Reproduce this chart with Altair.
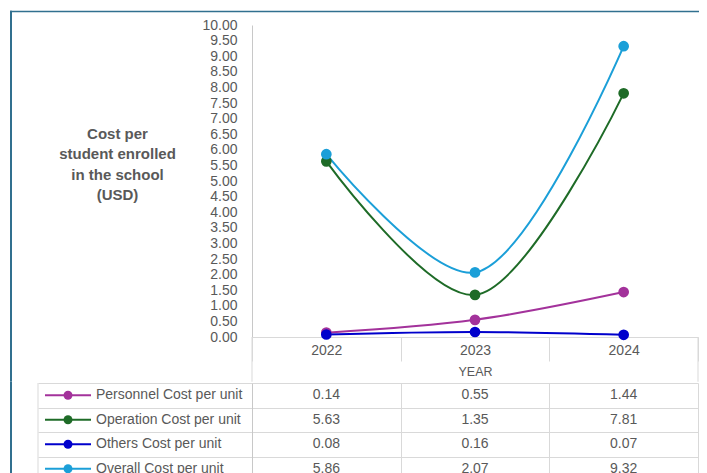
import altair as alt
import pandas as pd

years = ["2022", "2023", "2024"]
series = ["Personnel Cost per unit", "Operation Cost per unit",
          "Others Cost per unit", "Overall Cost per unit"]
personnel = [0.14, 0.55, 1.44]
operation = [5.63, 1.35, 7.81]
others = [0.08, 0.16, 0.07]
overall = [5.86, 2.07, 9.32]
colors = ["#A3329B", "#1E6B27", "#0000CC", "#1B9FD8"]
y_ticks = [0.0, 0.5, 1.0, 1.5, 2.0, 2.5, 3.0, 3.5, 4.0, 4.5, 5.0,
           5.5, 6.0, 6.5, 7.0, 7.5, 8.0, 8.5, 9.0, 9.5, 10.0]
y_title = ["Cost per", "student enrolled", "in the school", "(USD)"]

rows = []
for s, vals in zip(series, [personnel, operation, others, overall]):
    for yr, v in zip(years, vals):
        rows.append({"series": s, "year": yr, "value": v})
df = pd.DataFrame(rows)
one = pd.DataFrame({"k": [0]})

FONT = "Liberation Sans"
TXT = "#595959"
GRID = "#d9d9d9"
FRAME = "#31708F"
W, H = 446, 312
TH = 98
E = 356.75

xscale = alt.Scale(type="band", domain=years, paddingInner=0, paddingOuter=0)
cscale = alt.Scale(domain=series, range=colors)

x_top = alt.X("year:N", scale=xscale, sort=years,
              axis=alt.Axis(tickBand="extent", tickSize=24, tickColor=GRID,
                            domainColor=GRID, labelAngle=0, labelFontSize=14,
                            labelFont=FONT, labelColor=TXT, labelPadding=-18,
                            grid=False, title="YEAR", titleFont=FONT,
                            titleFontSize=12.5, titleFontWeight="normal",
                            titleColor=TXT, titleY=34, titleBaseline="middle"))
y_top = alt.Y("value:Q", scale=alt.Scale(domain=[0, 10]),
              axis=alt.Axis(values=y_ticks, format=".2f", grid=False, ticks=False,
                            domainColor="#c8c8c8", labelFontSize=14, labelFont=FONT,
                            labelColor=TXT, labelPadding=15, labelOverlap=False,
                            title=y_title, titleAngle=0, titleAlign="center",
                            titleBaseline="top", titleX=-135, titleY=101,
                            titleFont=FONT, titleFontSize=15, titleFontWeight="bold",
                            titleColor=TXT, titleLineHeight=20.5))
col = alt.Color("series:N", scale=cscale, legend=None)

base = alt.Chart(df)
lines = base.mark_line(interpolate="catmull-rom", strokeWidth=2).encode(
    x=x_top, y=y_top, color=col, detail="series:N")
points = base.mark_point(filled=True, size=115, opacity=1).encode(
    x=x_top, y=y_top, color=col)

# chart frame and table edges (filled rects: exact bounds)
frame_v1 = alt.Chart(one).mark_rect(color=FRAME).encode(
    x=alt.value(-242), x2=alt.value(-240), y=alt.value(-14.25), y2=alt.value(E))
frame_h = alt.Chart(one).mark_rect(color=FRAME).encode(
    x=alt.value(-242), x2=alt.value(W + 1), y=alt.value(-14.25), y2=alt.value(-12.75))
edge_l = alt.Chart(one).mark_rect(color=GRID).encode(
    x=alt.value(-0.5), x2=alt.value(0.5), y=alt.value(312), y2=alt.value(E))
edge_r = alt.Chart(one).mark_rect(color=GRID).encode(
    x=alt.value(W - 0.5), x2=alt.value(W + 0.5), y=alt.value(312), y2=alt.value(E))

top = alt.layer(frame_v1, frame_h, edge_l, edge_r, lines, points).properties(
    width=W, height=H)

# data table
x_tab = alt.X("year:N", scale=xscale, sort=years,
              axis=alt.Axis(orient="top", grid=True, tickBand="extent", gridColor=GRID,
                            labels=False, ticks=False, domain=False, title=None))
y_tab = alt.Y("series:N", sort=series,
              scale=alt.Scale(type="band", domain=series, paddingInner=0, paddingOuter=0),
              axis=alt.Axis(grid=True, tickBand="extent", gridColor=GRID, ticks=True,
                            tickSize=214, tickColor=GRID, labels=False, domain=True,
                            domainColor="#c8c8c8", title=None))

tbase = alt.Chart(df)
vals = tbase.mark_text(fontSize=14, font=FONT, color=TXT).encode(
    x=x_tab, y=y_tab, text=alt.Text("value:Q", format=".2f"))

sbase = alt.Chart(pd.DataFrame({"series": series}))
leg_line = sbase.mark_rule(strokeWidth=2).encode(
    x=alt.value(-207), x2=alt.value(-161), y=y_tab, color=col)
leg_pt = sbase.mark_point(filled=True, size=80, opacity=1).encode(
    x=alt.value(-184), y=y_tab, color=col)
leg_txt = sbase.mark_text(align="left", fontSize=14, font=FONT, color=TXT).encode(
    x=alt.value(-156), y=y_tab, text="series:N")
tab_left = alt.Chart(one).mark_rect(color=GRID).encode(
    x=alt.value(-214.5), x2=alt.value(-213.5), y=alt.value(0), y2=alt.value(TH))
frame_v2 = alt.Chart(one).mark_rect(color=FRAME).encode(
    x=alt.value(-242), x2=alt.value(-240), y=alt.value(-1), y2=alt.value(TH + 10))

bottom = alt.layer(frame_v2, tab_left, vals, leg_line, leg_pt, leg_txt).properties(
    width=W, height=TH)

chart = alt.vconcat(top, bottom, spacing=0).resolve_scale(
    x="independent", y="independent", color="shared"
).properties(
    padding={"left": 2, "top": 2, "right": 0, "bottom": 0}
).configure_view(stroke=None)

chart.save("out.html", embed_options={"renderer": "svg", "actions": False})
